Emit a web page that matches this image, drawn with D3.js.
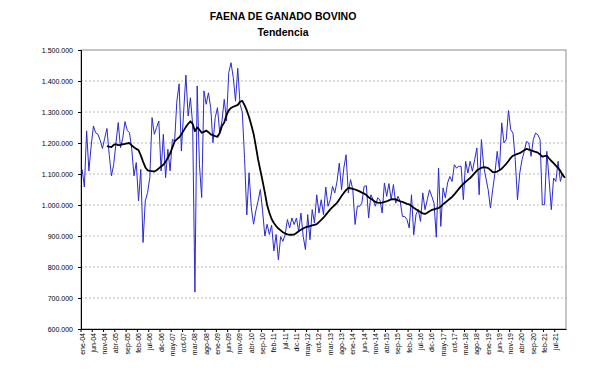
<!DOCTYPE html>
<html>
<head>
<meta charset="utf-8">
<script src="https://cdn.jsdelivr.net/npm/d3@7"></script>
<style>
  body { margin: 0; background: #fff; }
  svg { display: block; font-family: "Liberation Sans", Arial, sans-serif; }
</style>
</head>
<body>
<div id="chart"></div>
<script>
// month names used to build the category axis
const monthNames = ['ene', 'feb', 'mar', 'abr', 'may', 'jun', 'jul', 'ago', 'sep', 'oct', 'nov', 'dic']

// x tick labels (every 5 months)
const xTickLabels = ['ene-04', 'jun-04', 'nov-04', 'abr-05', 'sep-05', 'feb-06', 'jul-06', 'dic-06', 'may-07', 'oct-07',
  'mar-08', 'ago-08', 'ene-09', 'jun-09', 'nov-09', 'abr-10', 'sep-10', 'feb-11', 'jul-11', 'dic-11', 'may-12', 'oct-12',
  'mar-13', 'ago-13', 'ene-14', 'jun-14', 'nov-14', 'abr-15', 'sep-15', 'feb-16', 'jul-16', 'dic-16', 'may-17', 'oct-17',
  'mar-18', 'ago-18', 'ene-19', 'jun-19', 'nov-19', 'abr-20', 'sep-20', 'feb-21', 'jul-21']

// y ticks
const yTicks = [600000, 700000, 800000, 900000, 1000000, 1100000, 1200000, 1300000, 1400000, 1500000]

// monthly slaughter, thousands of heads (ene-04 .. nov-21)
const faena = [
  1115, 1058, 1239, 1110, 1190, 1255, 1233, 1228, 1209, 1182, 1215, 1247,
  1163, 1094, 1131, 1200, 1266, 1185, 1215, 1269, 1241, 1233, 1180, 1094,
  1137, 1013, 1115, 879, 1013, 1040, 1088, 1282, 1228, 1250, 1271, 1110,
  1228, 1088, 1180, 1110, 1212, 1206, 1335, 1391, 1174, 1300, 1419, 1287,
  1346, 1260, 719, 1384, 1131, 1024, 1368, 1325, 1362, 1314, 1201, 1282,
  1314, 1233, 1271, 1341, 1271, 1427, 1459, 1411, 1335, 1441, 1325, 1300,
  1150, 968, 1104, 991, 938, 981, 1013, 1050, 981, 900, 938, 905,
  935, 852, 905, 823, 898, 883, 905, 953, 926, 958, 937, 958,
  915, 974, 899, 856, 969, 888, 985, 942, 1033, 974, 1017, 969,
  1058, 996, 1017, 1060, 1039, 1076, 1135, 1049, 1119, 1162, 1039, 1082,
  1049, 937, 996, 996, 1006, 1060, 1062, 958, 1033, 1017, 996, 1023,
  1017, 974, 1071, 1028, 1069, 1017, 1066, 1006, 1028, 1012, 963, 963,
  953, 926, 1033, 904, 969, 985, 947, 1039, 985, 1017, 1049, 1028,
  1006, 896, 1119, 931, 1055, 1023, 1071, 1092, 1076, 1130, 1119, 1125,
  1125, 1017, 1141, 1103, 1141, 1109, 1146, 1184, 1033, 1211, 1125, 1087,
  1049, 990, 1049, 1103, 1173, 1114, 1265, 1200, 1211, 1305, 1243, 1232,
  1146, 1017, 1103, 1146, 1173, 1205, 1200, 1157, 1211, 1232, 1227, 1211,
  1001, 1001, 1173, 1082, 985, 1087, 1076, 1141, 1076, 1103, 1087
]

// trend, thousands of heads (starts dic-04)
const tendencia = [
  null, null, null, null, null, null, null, null, null, null, null, 1190,
  1188, 1187, 1194, 1196, 1193, 1194, 1196, 1197, 1199, 1200, 1192, 1186,
  1181, 1177, 1160, 1140, 1122, 1112, 1110, 1109, 1108, 1112, 1118, 1124,
  1130, 1140, 1152, 1166, 1185, 1205, 1212, 1218, 1228, 1240, 1252, 1262,
  1270, 1262, 1238, 1250, 1243, 1233, 1236, 1240, 1235, 1228, 1225, 1222,
  1220, 1232, 1255, 1266, 1290, 1305, 1313, 1317, 1320, 1323, 1333, 1336,
  1322, 1305, 1284, 1258, 1230, 1190, 1147, 1112, 1077, 1040, 1000, 975,
  955, 942, 932, 924, 918, 912, 908, 905, 904, 904, 905, 910,
  915, 920, 924, 928, 930, 932, 934, 936, 938, 945, 952, 959,
  968, 977, 986, 993, 1000, 1007, 1018, 1029, 1039, 1048, 1055, 1054,
  1052, 1050, 1047, 1044, 1040, 1037, 1032, 1025, 1020, 1015, 1010, 1008,
  1007, 1008, 1010, 1012, 1015, 1018, 1019, 1018, 1015, 1012, 1010, 1007,
  1004, 1002, 997, 991, 986, 982, 977, 973, 971, 975, 980, 984,
  986, 988, 990, 995, 1002, 1008, 1014, 1020, 1026, 1034, 1043, 1052,
  1061, 1068, 1075, 1081, 1087, 1095, 1103, 1111, 1116, 1120, 1122, 1121,
  1119, 1113, 1106, 1106, 1108, 1112, 1117, 1125, 1133, 1142, 1152, 1159,
  1162, 1165, 1167, 1172, 1177, 1181, 1179, 1176, 1174, 1171, 1169, 1163,
  1156, 1158, 1159, 1150, 1142, 1135, 1127, 1119, 1110, 1096, 1088
]


// category labels, one per month
const months = faena.map((d, i) => monthNames[i % 12] + '-' + String(4 + Math.floor(i / 12)).padStart(2, '0'))

const width = 590, height = 387
const margin = { top: 50, right: 24, bottom: 58, left: 81 }

const svg = d3.select('#chart').append('svg')
  .attr('width', width)
  .attr('height', height)

// scales
const x = d3.scaleBand()
  .domain(months)
  .range([margin.left, width - margin.right])
  .padding(0)

const y = d3.scaleLinear()
  .domain([600000, 1500000])
  .range([height - margin.bottom, margin.top])

const fmt = d3.formatLocale({ decimal: ',', thousands: '.', grouping: [3], currency: ['', ''] }).format(',.0f')

const cx = d => x(d) + x.bandwidth() / 2

// titles
svg.append('text')
  .attr('x', 283).attr('y', 20)
  .attr('text-anchor', 'middle')
  .attr('font-size', 10.5).attr('font-weight', 'bold')
  .text('FAENA DE GANADO BOVINO')

svg.append('text')
  .attr('x', 283).attr('y', 36)
  .attr('text-anchor', 'middle')
  .attr('font-size', 10.5).attr('font-weight', 'bold')
  .text('Tendencia')

// gridlines
svg.append('g')
  .selectAll('line')
  .data(yTicks.slice(1, -1))
  .join('line')
  .attr('x1', margin.left).attr('x2', width - margin.right)
  .attr('y1', d => y(d)).attr('y2', d => y(d))
  .attr('stroke', '#a8a8a8')
  .attr('stroke-width', 0.8)
  .attr('stroke-dasharray', '2,2')

// plot border
svg.append('rect')
  .attr('x', margin.left).attr('y', margin.top)
  .attr('width', width - margin.left - margin.right)
  .attr('height', height - margin.top - margin.bottom)
  .attr('fill', 'none')
  .attr('stroke', '#8c8c8c')
  .attr('stroke-width', 1)

// y axis
const yAxis = svg.append('g')
  .attr('transform', `translate(${margin.left},0)`)
  .call(d3.axisLeft(y).tickValues(yTicks).tickFormat(fmt).tickSize(3).tickPadding(5))
yAxis.select('.domain').attr('stroke', '#000')
yAxis.selectAll('text').attr('font-size', 7).attr('fill', '#000').attr('font-family', '"Liberation Sans", Arial, sans-serif')

// x axis: labels every 5 months
const xAxis = svg.append('g')
  .attr('transform', `translate(0,${height - margin.bottom})`)
  .call(d3.axisBottom(x).tickValues(xTickLabels).tickSize(0).tickPadding(0))
xAxis.select('.domain').attr('stroke', '#000')
xAxis.selectAll('text')
  .attr('font-size', 7).attr('fill', '#000').attr('font-family', '"Liberation Sans", Arial, sans-serif')
  .attr('transform', 'rotate(-90)')
  .attr('text-anchor', 'end')
  .attr('x', -4).attr('y', 0).attr('dy', '0.35em')

// x tick marks at group boundaries
svg.append('g')
  .selectAll('line')
  .data(xTickLabels)
  .join('line')
  .attr('x1', d => x(d)).attr('x2', d => x(d))
  .attr('y1', height - margin.bottom).attr('y2', height - margin.bottom + 3)
  .attr('stroke', '#000')

// monthly series
const line = d3.line()
  .defined(d => d[1] != null)
  .x(d => cx(d[0]))
  .y(d => y(d[1] * 1000))

svg.append('path')
  .datum(months.map((m, i) => [m, faena[i]]))
  .attr('d', line)
  .attr('fill', 'none')
  .attr('stroke', '#2a2ad0')
  .attr('stroke-width', 1)

// trend
svg.append('path')
  .datum(months.map((m, i) => [m, tendencia[i]]))
  .attr('d', line)
  .attr('fill', 'none')
  .attr('stroke', '#000')
  .attr('stroke-width', 1.8)
  .attr('stroke-linejoin', 'round')
</script>
</body>
</html>
